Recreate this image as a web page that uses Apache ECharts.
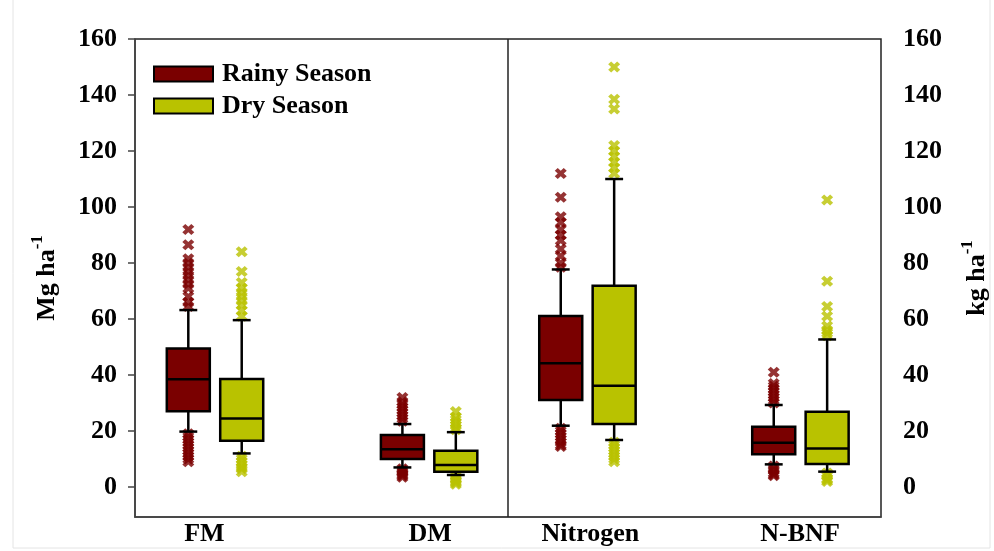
<!DOCTYPE html>
<html><head><meta charset="utf-8">
<script src="https://cdn.jsdelivr.net/npm/echarts@6/dist/echarts.min.js"></script>
<style>html,body{margin:0;padding:0;background:#fff}#c{width:994px;height:551px}</style>
</head><body><div id="c"></div>
<script>
// ---- data ----
const categories = ['FM', 'DM', 'Nitrogen', 'N-BNF'];
const seasons = ['Rainy Season', 'Dry Season'];
// [lower whisker, Q1, median, Q3, upper whisker]
const rainyBox = [
  [19.8, 27.1, 38.5, 49.5, 63.2],
  [7.0, 10.0, 13.5, 18.6, 22.5],
  [21.9, 31.1, 44.2, 61.1, 77.7],
  [8.1, 11.7, 15.8, 21.5, 29.3]
];
const dryBox = [
  [12.0, 16.5, 24.5, 38.6, 59.6],
  [4.3, 5.5, 7.9, 13.0, 19.6],
  [16.8, 22.5, 36.2, 71.9, 110],
  [5.5, 8.2, 13.8, 26.9, 52.7]
];
const rainyOutliers = [
  [92, 86.5, 81.5, 80, 78.5, 77, 75.5, 74, 72.5, 71, 68, 66, 64.5, 19, 18, 17, 16, 15, 14, 13, 12, 11, 10, 9],
  [32, 30.5, 29.5, 28.5, 27.5, 26.5, 25.5, 24.5, 23.5, 6.5, 6, 5.5, 5, 4.5, 4, 3.5],
  [112, 103.5, 96.5, 94.5, 92, 90, 88, 85, 82.5, 80, 78.5, 21, 20, 19, 18, 17, 16, 15, 14.5],
  [41, 37, 36, 35, 34, 33, 32, 31, 30, 7.5, 6.5, 6, 5, 4.5, 4]
];
const dryOutliers = [
  [84, 77, 73, 71, 69.5, 68, 66.5, 65, 63, 61, 11, 10, 9, 8, 7, 6.5, 5.5],
  [27, 25, 24, 23, 22, 21, 20.5, 4, 3, 2.5, 2, 1.5, 1],
  [150, 138.5, 135, 122, 120, 118, 116, 114, 112, 16, 15, 14, 13, 12, 11, 10, 9],
  [102.5, 73.5, 64.5, 61, 57.5, 56, 55, 54, 5, 4, 3, 2.5, 2]
];
const yTicks = [0, 20, 40, 60, 80, 100, 120, 140, 160];

// ---- layout (not data) ----
const groupPos = [0.2145, 0.7885, 1.213, 1.784];
const labelPos = [0.186, 0.791, 1.221, 1.783];
const offset = 0.0716;
const boxW = 0.1153, capW = 0.048;
const colors = ['#7a0000', '#b9c200'];
const font = 'Liberation Serif, Times New Roman, serif';

function boxData(boxes, sign) {
  return boxes.map((b, i) => [groupPos[i] + sign * offset].concat(b));
}
function outlierData(outs, sign) {
  const r = [];
  outs.forEach((arr, i) => arr.forEach(v => r.push([groupPos[i] + sign * offset, v])));
  return r;
}
function renderBox(color) {
  return function (params, api) {
    const x = api.value(0);
    const lo = api.coord([x, api.value(1)]);
    const q1 = api.coord([x, api.value(2)]);
    const md = api.coord([x, api.value(3)]);
    const q3 = api.coord([x, api.value(4)]);
    const hi = api.coord([x, api.value(5)]);
    const w = api.size([boxW, 0])[0];
    const cw = api.size([capW, 0])[0];
    const ls = { stroke: '#000', lineWidth: 2.5 };
    const cx = lo[0];
    return {
      type: 'group',
      children: [
        { type: 'line', shape: { x1: cx, y1: q3[1], x2: cx, y2: hi[1] }, style: ls },
        { type: 'line', shape: { x1: cx, y1: q1[1], x2: cx, y2: lo[1] }, style: ls },
        { type: 'line', shape: { x1: cx - cw / 2, y1: hi[1], x2: cx + cw / 2, y2: hi[1] }, style: ls },
        { type: 'line', shape: { x1: cx - cw / 2, y1: lo[1], x2: cx + cw / 2, y2: lo[1] }, style: ls },
        { type: 'rect', shape: { x: cx - w / 2, y: q3[1], width: w, height: q1[1] - q3[1] },
          style: { fill: color, stroke: '#000', lineWidth: 2.5 } },
        { type: 'line', shape: { x1: cx - w / 2, y1: md[1], x2: cx + w / 2, y2: md[1] }, style: ls }
      ]
    };
  };
}
const xPath = 'path://M0,2.5L2.5,0L5,2.5L7.5,0L10,2.5L7.5,5L10,7.5L7.5,10L5,7.5L2.5,10L0,7.5L2.5,5Z';
const labelStyle = { fontFamily: font, fontWeight: 'bold', fontSize: 26, color: '#000' };
const nameRich = {
  a: { fontFamily: font, fontWeight: 'bold', fontSize: 26, color: '#000', lineHeight: 36 },
  s: { fontFamily: font, fontWeight: 'bold', fontSize: 17, color: '#000', verticalAlign: 'top' }
};

const chart = echarts.init(document.getElementById('c'));
chart.setOption({
  animation: false,
  backgroundColor: '#fff',
  graphic: [{ type: 'rect', shape: { x: 13, y: -2, width: 977, height: 550 },
    style: { fill: 'none', stroke: '#e4e4e4', lineWidth: 1 }, silent: true }],
  grid: { left: 135, right: 113, top: 39, bottom: 34, outerBoundsMode: 'none', containLabel: false,
    show: true, borderColor: '#222', borderWidth: 1.5, backgroundColor: 'transparent' },
  legend: {
    data: seasons, orient: 'vertical', left: 153, top: 61, padding: 0,
    itemWidth: 59, itemHeight: 15, itemGap: 6, icon: 'rect',
    itemStyle: { borderColor: '#000', borderWidth: 2 },
    textStyle: Object.assign({}, labelStyle, { padding: [0, 0, 0, 4] })
  },
  xAxis: {
    type: 'value', min: 0, max: 2,
    axisLine: { show: true, onZero: false, lineStyle: { color: '#444', width: 1.5 } },
    axisTick: { show: false }, splitLine: { show: false },
    axisLabel: Object.assign({}, labelStyle, {
      customValues: labelPos, margin: 4,
      formatter: v => categories[labelPos.findIndex(p => Math.abs(p - v) < 1e-6)] || ''
    })
  },
  yAxis: [{
    type: 'value', min: -10.7, max: 160, position: 'left',
    name: '{a|Mg ha}{s|-1}', nameLocation: 'middle', nameRotate: 90, nameGap: 70,
    nameTextStyle: { rich: nameRich },
    axisLine: { show: true, lineStyle: { color: '#444', width: 1.5 } },
    axisTick: { show: true, customValues: yTicks, length: 7, lineStyle: { color: '#444', width: 1.5 } },
    splitLine: { show: false },
    axisLabel: Object.assign({}, labelStyle, { customValues: yTicks, margin: 18 })
  }, {
    type: 'value', min: -10.7, max: 160, position: 'right',
    name: '{a|kg ha}{s|-1}', nameLocation: 'middle', nameRotate: 90, nameGap: 78,
    nameTextStyle: { rich: nameRich },
    axisLine: { show: false }, axisTick: { show: false }, splitLine: { show: false },
    axisLabel: Object.assign({}, labelStyle, { customValues: yTicks, margin: 22 })
  }],
  series: [
    { name: seasons[0], type: 'custom', z: 3, itemStyle: { color: colors[0] },
      renderItem: renderBox(colors[0]), data: boxData(rainyBox, -1), encode: { x: 0, y: [1, 2, 3, 4, 5] } },
    { name: seasons[1], type: 'custom', z: 3, itemStyle: { color: colors[1] },
      renderItem: renderBox(colors[1]), data: boxData(dryBox, 1), encode: { x: 0, y: [1, 2, 3, 4, 5] } },
    { name: 'Rainy outliers', type: 'scatter', z: 2, symbol: xPath, symbolSize: [12, 11],
      itemStyle: { color: colors[0] }, data: outlierData(rainyOutliers, -1),
      markLine: { silent: true, symbol: ['none', 'none'], label: { show: false },
        lineStyle: { color: '#222', width: 1.5, type: 'solid' }, data: [{ xAxis: 1 }] } },
    { name: 'Dry outliers', type: 'scatter', z: 2, symbol: xPath, symbolSize: [12, 11],
      itemStyle: { color: colors[1] }, data: outlierData(dryOutliers, 1) }
  ]
});
</script></body></html>
